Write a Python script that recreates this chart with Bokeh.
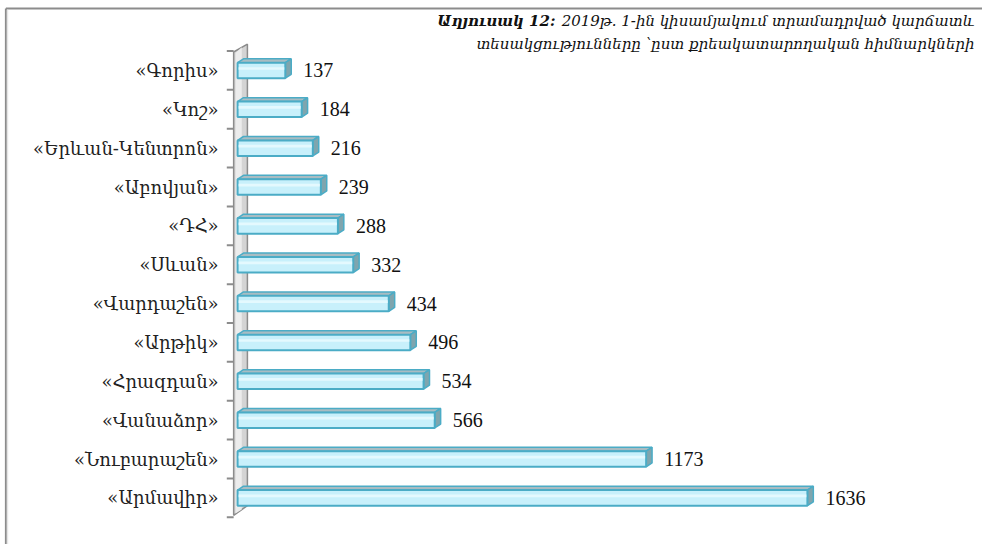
from bokeh.plotting import figure
from bokeh.models import Range1d
from bokeh.embed import file_html
from bokeh.resources import INLINE
from bokeh.core.properties import value

# ---- data (bottom to top) ----
categories = ["«Արմավիր»", "«Նուբարաշեն»", "«Վանաձոր»", "«Հրազդան»", "«Արթիկ»",
              "«Վարդաշեն»", "«Սևան»", "«ԴՀ»", "«Աբովյան»", "«Երևան-Կենտրոն»",
              "«Կոշ»", "«Գորիս»"]
values = [1636, 1173, 566, 534, 496, 434, 332, 288, 239, 216, 184, 137]
title_bold = "Աղյուսակ 12:"
title_line1 = "2019թ. 1-ին կիսամյակում տրամադրված կարճատև"
title_line2 = "տեսակցությունները ՝ըստ քրեակատարողական հիմնարկների"

SERIF = "DejaVu Serif"
NUMF = "Liberation Serif"

n = len(categories)
ys = list(range(n))

X0, X1 = -680.7, 2138.7
Y0, Y1 = -1.2, 12.8

p = figure(width=982, height=544, output_backend="svg", toolbar_location=None,
           x_range=Range1d(X0, X1), y_range=Range1d(Y0, Y1),
           x_axis_location=None, y_axis_location=None,
           min_border=0, min_border_left=0, min_border_right=0,
           min_border_top=0, min_border_bottom=0)
p.outline_line_color = None
p.grid.visible = False
p.background_fill_color = "white"
p.border_fill_color = "white"

# outer frame (top and left)
fx = X0 + 15.5
fy = Y1 - 0.208
p.segment(x0=[fx, fx], y0=[Y0, fy], x1=[fx, X1], y1=[fy, fy],
          line_color="#8c8c8c", line_width=2)
p.segment(x0=[fx + 4.5], y0=[Y0], x1=[fx + 4.5], y1=[fy - 0.03],
          line_color="#e6e6e6", line_width=1.5)

# wall
p.patch(x=[-11.3, -11.3, 28.2, 28.2], y=[-0.45, n - 0.525, n - 0.325, -0.2],
        fill_color="#d4d4d4", line_color="#8c8c8c", line_width=1.5)
p.patch(x=[-6, -6, 12, 12], y=[-0.4, n - 0.55, n - 0.4, -0.3],
        fill_color="#ececec", line_color=None)
# wall ticks
tick_ys = [i - 0.5 for i in range(n + 1)]
p.segment(x0=[-31] * len(tick_ys), x1=[-11.3] * len(tick_ys), y0=tick_ys, y1=tick_ys,
          line_color="#8c8c8c", line_width=2)

h = 0.2
dx = 17
dy = 0.1
top_xs, top_ys, side_xs, side_ys = [], [], [], []
for v, y in zip(values, ys):
    top_xs.append([0, v, v + dx, dx])
    top_ys.append([y + h, y + h, y + h + dy, y + h + dy])
    side_xs.append([v, v, v + dx, v + dx])
    side_ys.append([y - h, y + h, y + h + dy, y - h + dy])

p.patches(xs=top_xs, ys=top_ys, fill_color="#a9bcc2", line_color="#4bacc6", line_width=1.5)
p.patches(xs=side_xs, ys=side_ys, fill_color="#7fa5ae", line_color="#4bacc6", line_width=1.5)
p.hbar(y=ys, left=0, right=values, height=2 * h, fill_color="#c8f0fb",
       line_color="#4bacc6", line_width=2)
p.hbar(y=[y + 0.05 for y in ys], left=[3] * n, right=[v - 3 for v in values], height=0.07,
       fill_color="#e4f9fe", line_color=None)

# value labels
p.text(x=values, y=ys, text=[str(v) for v in values], x_offset=18,
       text_baseline="middle", text_align="left", text_font=value(NUMF),
       text_font_size="20px", text_color="#111111")

# category labels
p.text(x=[0] * n, y=ys, text=categories, x_offset=-19,
       text_baseline="middle", text_align="right", text_font=value(SERIF),
       text_font_size="18px", text_color="#222222")

# title
p.text(x=[X1], y=[12.26], text=[title_line1], x_offset=-8, text_align="right",
       text_baseline="alphabetic", text_font=value(SERIF), text_font_style="italic",
       text_font_size="15px", text_color="#111111")
p.text(x=[X1], y=[12.26], text=[title_bold], x_offset=-427, text_align="right",
       text_baseline="alphabetic", text_font=value(SERIF), text_font_style="bold italic",
       text_font_size="15px", text_color="#111111")
p.text(x=[X1], y=[11.69], text=[title_line2], x_offset=-8, text_align="right",
       text_baseline="alphabetic", text_font=value(SERIF), text_font_style="italic",
       text_font_size="15px", text_color="#111111")

open("out.html", "w").write(file_html(p, INLINE))
